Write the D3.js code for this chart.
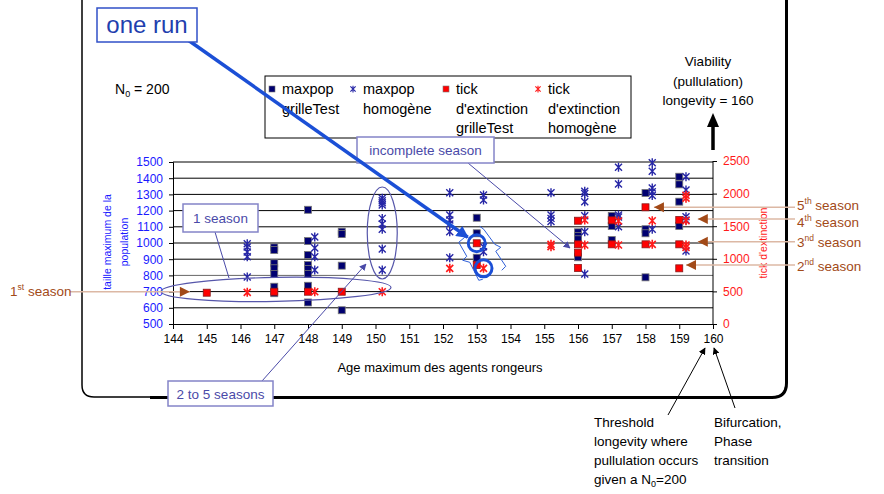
<!DOCTYPE html>
<html>
<head>
<meta charset="utf-8">
<script src="https://cdn.jsdelivr.net/npm/d3@7"></script>
<style>
  body { margin: 0; background: #fff; }
  svg { display: block; font-family: "Liberation Sans", Arial, sans-serif; }
</style>
</head>
<body>
<div id="draw"></div>
<script>
// x = age maximum, y = value ; homogène runs sit 0.2 to the right of the tick
var maxpopGrille = [
    [147, 973], [147, 957], [147, 875], [147, 844], [147, 809], [147, 730], [147, 690],
    [148, 1205], [148, 1012], [148, 926], [148, 864], [148, 840], [148, 809], [148, 736], [148, 633],
    [149, 1070], [149, 1055], [149, 860], [149, 585],
    [153, 1156], [153, 1060], [153, 909],
    [156, 1066], [156, 1043], [156, 1023], [156, 912],
    [157, 1167], [157, 1105], [157, 1018],
    [158, 1309], [158, 1085], [158, 1060], [158, 788],
    [159, 1409], [159, 1362], [159, 1255], [159, 1105]
];
var maxpopHomogene = [
    [146.2, 995], [146.2, 975], [146.2, 945], [146.2, 915], [146.2, 790],
    [148.2, 1037], [148.2, 969], [148.2, 915], [148.2, 833],
    [150.2, 1276], [150.2, 1261], [150.2, 1249], [150.2, 1235], [150.2, 1152], [150.2, 1117], [150.2, 1085], [150.2, 963], [150.2, 833],
    [152.2, 1310], [152.2, 1173], [152.2, 1142], [152.2, 1117], [152.2, 1070], [152.2, 909],
    [153.2, 1296], [153.2, 1265], [153.2, 977], [153.2, 946],
    [155.2, 1310], [155.2, 1173], [155.2, 1152], [155.2, 1132],
    [156.2, 1320], [156.2, 1305], [156.2, 1255], [156.2, 1168], [156.2, 1070], [156.2, 809],
    [157.2, 1467], [157.2, 1364], [157.2, 1173], [157.2, 1160], [157.2, 1100],
    [158.2, 1496], [158.2, 1443], [158.2, 1340], [158.2, 1317], [158.2, 1293], [158.2, 1085],
    [159.2, 1409], [159.2, 1327], [159.2, 1162], [159.2, 1142], [159.2, 950]
];
var tickGrille = [
    [145, 480], [147, 495], [148, 495], [149, 495],
    [153, 1238], [153, 905],
    [156, 1584], [156, 1222], [156, 1094], [156, 859],
    [157, 1590], [157, 1222],
    [158, 1790], [158, 1222],
    [159, 1595], [159, 1222], [159, 854]
];
var tickHomogene = [
    [146.2, 486], [148.2, 495], [150.2, 495],
    [152.2, 854], [153.2, 854],
    [155.2, 1222], [155.2, 1186],
    [156.2, 1595], [156.2, 1212],
    [157.2, 1580], [157.2, 1212],
    [158.2, 1584], [158.2, 1222],
    [159.2, 1975], [159.2, 1930], [159.2, 1584], [159.2, 1212], [159.2, 1176]
];

var xTicks = d3.range(144, 161);
var leftTicks = d3.range(500, 1501, 100);
var rightTicks = [0, 500, 1000, 1500, 2000, 2500];

// season arrows: [number, suffix, x, tick value]
var seasons = [
    ['5', 'th', 158.25, 1790],
    ['4', 'th', 159.55, 1610],
    ['3', 'nd', 159.55, 1262],
    ['2', 'nd', 159.2, 905]
];

(function () {
    "use strict";

    var W = 884, H = 494,
        blue = '#1a1aff', red = '#ff1a1a', note = '#4a4aa8', brown = '#a24a18';

    var svg = d3.select('#draw').append('svg').attr('width', W).attr('height', H);

    var x = d3.scaleLinear().domain([144, 160]).range([173, 713]),
        yL = d3.scaleLinear().domain([500, 1500]).range([324, 162]),
        yR = d3.scaleLinear().domain([0, 2500]).range([324, 161]);

    // rounded frame, heavier on the right and bottom
    svg.append('path')
        .attr('d', 'M82,-10 V385 Q82,397 94,397 H772 Q786,397 786,383 V-10')
        .attr('fill', 'none').attr('stroke', '#000').attr('stroke-width', 1.5);
    svg.append('path')
        .attr('d', 'M150,397.5 H772 Q786.5,397.5 786.5,383 V-10')
        .attr('fill', 'none').attr('stroke', '#000').attr('stroke-width', 3);

    // grid
    svg.append('g').selectAll('line').data(leftTicks.slice(1)).enter().append('line')
        .attr('x1', x(144)).attr('x2', x(160))
        .attr('y1', function (d) { return yL(d); }).attr('y2', function (d) { return yL(d); })
        .attr('stroke', function (d) { return d === 800 ? '#666' : '#000'; })
        .attr('stroke-width', 1);

    // axes
    var fmt = d3.format('d');
    var gl = svg.append('g').attr('transform', 'translate(' + x(144) + ',0)')
        .call(d3.axisLeft(yL).tickValues(leftTicks).tickFormat(fmt).tickSize(4).tickPadding(6));
    gl.selectAll('text').attr('fill', blue).style('font-size', '12px');
    var gr = svg.append('g').attr('transform', 'translate(' + x(160) + ',0)')
        .call(d3.axisRight(yR).tickValues(rightTicks).tickFormat(fmt).tickSize(4).tickPadding(6));
    gr.selectAll('text').attr('fill', red).style('font-size', '12px');
    gr.select('.domain').attr('d', 'M0,' + yR(2500) + 'V' + yR(0));
    var gb = svg.append('g').attr('transform', 'translate(0,' + yL(500) + ')')
        .call(d3.axisBottom(x).tickValues(xTicks).tickFormat(fmt).tickSize(5).tickPadding(5));
    gb.selectAll('text').attr('fill', '#000').style('font-size', '12px');
    [gl, gr, gb].forEach(function (g) {
        g.selectAll('line, path').attr('stroke', '#000');
        g.style('font-family', '"Liberation Sans", Arial, sans-serif');
    });

    // axis titles
    svg.append('text').attr('transform', 'translate(111,242) rotate(-90)')
        .attr('text-anchor', 'middle').attr('fill', blue).style('font-size', '10.5px')
        .text('taille maximum de la');
    svg.append('text').attr('transform', 'translate(128,242) rotate(-90)')
        .attr('text-anchor', 'middle').attr('fill', blue).style('font-size', '10.5px')
        .text('population');
    svg.append('text').attr('transform', 'translate(767,243) rotate(-90)')
        .attr('text-anchor', 'middle').attr('fill', red).style('font-size', '10.5px')
        .text("tick d'extinction");
    svg.append('text').attr('x', 440).attr('y', 372).attr('text-anchor', 'middle')
        .style('font-size', '13px').text('Age maximum des agents rongeurs');

    // markers
    var star = 'M-3.5,-3.5L3.5,3.5M-3.5,3.5L3.5,-3.5M0,-4.5V4.5';

    svg.append('g').selectAll('rect').data(maxpopGrille).enter().append('rect')
        .attr('x', function (d) { return x(d[0]) - 3.5; })
        .attr('y', function (d) { return yL(d[1]) - 3.5; })
        .attr('width', 7).attr('height', 7)
        .attr('fill', '#000070').attr('stroke', '#777').attr('stroke-width', 0.8);

    svg.append('g').selectAll('path').data(maxpopHomogene).enter().append('path')
        .attr('transform', function (d) { return 'translate(' + x(d[0]) + ',' + yL(d[1]) + ')'; })
        .attr('d', star).attr('fill', 'none').attr('stroke', '#2626a6').attr('stroke-width', 1.4);

    svg.append('g').selectAll('rect').data(tickGrille).enter().append('rect')
        .attr('x', function (d) { return x(d[0]) - 3.5; })
        .attr('y', function (d) { return yR(d[1]) - 3.5; })
        .attr('width', 7).attr('height', 7)
        .attr('fill', '#ff0000').attr('stroke', '#8a1a1a').attr('stroke-width', 0.8);

    svg.append('g').selectAll('path').data(tickHomogene).enter().append('path')
        .attr('transform', function (d) { return 'translate(' + x(d[0]) + ',' + yR(d[1]) + ')'; })
        .attr('d', star).attr('fill', 'none').attr('stroke', '#ff1a1a').attr('stroke-width', 1.6);

    // legend
    svg.append('rect').attr('x', 265).attr('y', 76).attr('width', 366).attr('height', 62)
        .attr('fill', '#fff').attr('stroke', '#000').attr('stroke-width', 1);
    var legendCols = [
        [272, ['maxpop', 'grilleTest'], 'sq', '#000070'],
        [353, ['maxpop', 'homogène'], 'st', '#2626a6'],
        [446, ['tick', "d'extinction", 'grilleTest'], 'sq', '#ff0000'],
        [538, ['tick', "d'extinction", 'homogène'], 'st', '#ff1a1a']
    ];
    legendCols.forEach(function (c) {
        if (c[2] === 'sq') {
            svg.append('rect').attr('x', c[0] - 3).attr('y', 86).attr('width', 6).attr('height', 6)
                .attr('fill', c[3]).attr('stroke', '#777').attr('stroke-width', 0.6);
        } else {
            svg.append('path').attr('transform', 'translate(' + c[0] + ',89) scale(0.75)')
                .attr('d', star).attr('fill', 'none').attr('stroke', c[3]).attr('stroke-width', 1.5);
        }
        c[1].forEach(function (t, i) {
            svg.append('text').attr('x', c[0] + 10).attr('y', 94 + i * 19.5)
                .style('font-size', '14.5px').text(t);
        });
    });

    // N0 = 200
    var n0 = svg.append('text').attr('x', 115).attr('y', 94).style('font-size', '14px');
    n0.append('tspan').text('N');
    n0.append('tspan').attr('dy', 3).style('font-size', '9px').text('0');
    n0.append('tspan').attr('dy', -3).text(' = 200');

    // viability note + arrow
    ['Viability', '(pullulation)', 'longevity = 160'].forEach(function (t, i) {
        svg.append('text').attr('x', 708).attr('y', 66 + i * 19.5).attr('text-anchor', 'middle')
            .style('font-size', '13.5px').text(t);
    });
    svg.append('line').attr('x1', x(160)).attr('x2', x(160)).attr('y1', 150).attr('y2', 126)
        .attr('stroke', '#000').attr('stroke-width', 3.5);
    svg.append('path').attr('d', 'M' + (x(160) - 6) + ',127 L' + x(160) + ',113 L' + (x(160) + 6) + ',127Z')
        .attr('fill', '#000');

    // ellipses around the single-season and multi-season runs
    svg.append('ellipse').attr('cx', 276).attr('cy', yR(500) - 2).attr('rx', 115).attr('ry', 12)
        .attr('transform', 'rotate(-1 276 289)')
        .attr('fill', 'none').attr('stroke', '#5656aa').attr('stroke-width', 1.2);
    svg.append('ellipse').attr('cx', x(150.2)).attr('cy', 233).attr('rx', 15).attr('ry', 46)
        .attr('fill', 'none').attr('stroke', '#5656aa').attr('stroke-width', 1.2);

    // note boxes
    function noteBox(x0, y0, w, h, label) {
        svg.append('rect').attr('x', x0).attr('y', y0).attr('width', w).attr('height', h)
            .attr('fill', '#fff').attr('stroke', '#8484c8').attr('stroke-width', 1.5);
        svg.append('text').attr('x', x0 + w / 2).attr('y', y0 + h / 2 + 5).attr('text-anchor', 'middle')
            .attr('fill', note).style('font-size', '13.5px').text(label);
    }

    svg.append('defs').selectAll('marker')
        .data([['thin', '#4a4aa8'], ['black', '#000'], ['big', '#1b4fd6']]).enter()
        .append('marker')
        .attr('id', function (d) { return 'ah-' + d[0]; })
        .attr('viewBox', '0 0 10 10').attr('refX', 9).attr('refY', 5)
        .attr('markerWidth', function (d) { return d[0] === 'big' ? 3.5 : 7; })
        .attr('markerHeight', function (d) { return d[0] === 'big' ? 3.5 : 7; })
        .attr('markerUnits', 'strokeWidth')
        .attr('orient', 'auto')
        .append('path').attr('d', 'M0,0 L10,5 L0,10 Z')
        .attr('fill', function (d) { return d[1]; });

    svg.append('line').attr('x1', 215).attr('y1', 232).attr('x2', 229).attr('y2', 278)
        .attr('stroke', '#4a4aa8').attr('stroke-width', 1);
    noteBox(183, 204, 75, 28, '1 season');

    svg.append('line').attr('x1', 262).attr('y1', 381).attr('x2', 366).attr('y2', 264)
        .attr('stroke', '#4a4aa8').attr('stroke-width', 1).attr('marker-end', 'url(#ah-thin)');
    noteBox(168, 381, 105, 25, '2 to 5 seasons');

    svg.append('line').attr('x1', 468).attr('y1', 163).attr('x2', 570).attr('y2', 248)
        .attr('stroke', '#4a4aa8').attr('stroke-width', 1).attr('marker-end', 'url(#ah-thin)');
    noteBox(357, 137, 137, 26, 'incomplete season');

    // the highlighted run at 153, framed by two tilted braces
    var c1 = [x(153), yR(1238)], c2 = [x(153.2), yR(854)];
    function brace(pts) {
        svg.append('path').attr('d', 'M' + pts.map(function (p) {
            return (c1[0] + p[0]) + ',' + (c1[1] + p[1]);
        }).join(' L'))
            .attr('fill', 'none').attr('stroke', '#2f5fd8').attr('stroke-width', 1);
    }
    brace([[-12, -6], [-18, -1], [-10, 13], [-14, 17], [-7, 19], [2, 37], [6, 36]]);
    brace([[3, -17], [7, -14], [18, 1], [24, 4], [19, 8], [29, 23], [25, 27]]);
    [c1, c2].forEach(function (c) {
        svg.append('circle').attr('cx', c[0]).attr('cy', c[1]).attr('r', 8.5)
            .attr('fill', 'none').attr('stroke', '#1b4fd6').attr('stroke-width', 3);
    });

    // "one run" callout
    svg.append('line').attr('x1', 188).attr('y1', 40).attr('x2', c1[0] - 9).attr('y2', c1[1] - 6)
        .attr('stroke', '#1b4fd6').attr('stroke-width', 3.5).attr('marker-end', 'url(#ah-big)');
    svg.append('rect').attr('x', 97).attr('y', 8).attr('width', 100).attr('height', 34)
        .attr('fill', '#fff').attr('stroke', '#3050c8').attr('stroke-width', 1.5);
    svg.append('text').attr('x', 147).attr('y', 33).attr('text-anchor', 'middle')
        .attr('fill', '#1f3fae').style('font-size', '24px').text('one run');

    // season arrows
    function seasonLabel(tx, ty, num, suf) {
        var t = svg.append('text').attr('x', tx).attr('y', ty).attr('fill', brown).style('font-size', '13.5px');
        t.append('tspan').text(num);
        t.append('tspan').attr('dy', -6).style('font-size', '8.5px').text(suf);
        t.append('tspan').attr('dy', 6).text(' season');
    }
    function seasonArrow(x1, x2, yy, dir) {
        svg.append('line').attr('x1', x1).attr('x2', x2).attr('y1', yy).attr('y2', yy)
            .attr('stroke', '#dcb8a4').attr('stroke-width', 1.5);
        svg.append('path')
            .attr('d', 'M' + x2 + ',' + yy + ' l' + (10 * dir) + ',-5 v10 Z')
            .attr('fill', brown);
    }
    var labelY = [210, 227, 247, 271];
    seasons.forEach(function (s, i) {
        var ty = yR(s[3]);
        seasonArrow(795, x(s[2]), ty, 1);
        seasonLabel(797, labelY[i], s[0], s[1]);
    });
    seasonArrow(70, x(144.5), yR(495), -1);
    seasonLabel(10, 296, '1', 'st');

    // bottom notes
    svg.append('line').attr('x1', 668).attr('y1', 415).attr('x2', 705).attr('y2', 348)
        .attr('stroke', '#000').attr('stroke-width', 1).attr('marker-end', 'url(#ah-black)');
    svg.append('line').attr('x1', 735).attr('y1', 408).attr('x2', 714).attr('y2', 348)
        .attr('stroke', '#000').attr('stroke-width', 1).attr('marker-end', 'url(#ah-black)');
    ['Threshold', 'longevity where', 'pullulation occurs'].forEach(function (t, i) {
        svg.append('text').attr('x', 594).attr('y', 427 + i * 19).style('font-size', '13.5px').text(t);
    });
    var g0 = svg.append('text').attr('x', 594).attr('y', 484).style('font-size', '13.5px');
    g0.append('tspan').text('given a N');
    g0.append('tspan').attr('dy', 3).style('font-size', '9px').text('0');
    g0.append('tspan').attr('dy', -3).text('=200');
    ['Bifurcation,', 'Phase', 'transition'].forEach(function (t, i) {
        svg.append('text').attr('x', 714).attr('y', 427 + i * 19).style('font-size', '13.5px').text(t);
    });
}());
</script>
</body>
</html>
